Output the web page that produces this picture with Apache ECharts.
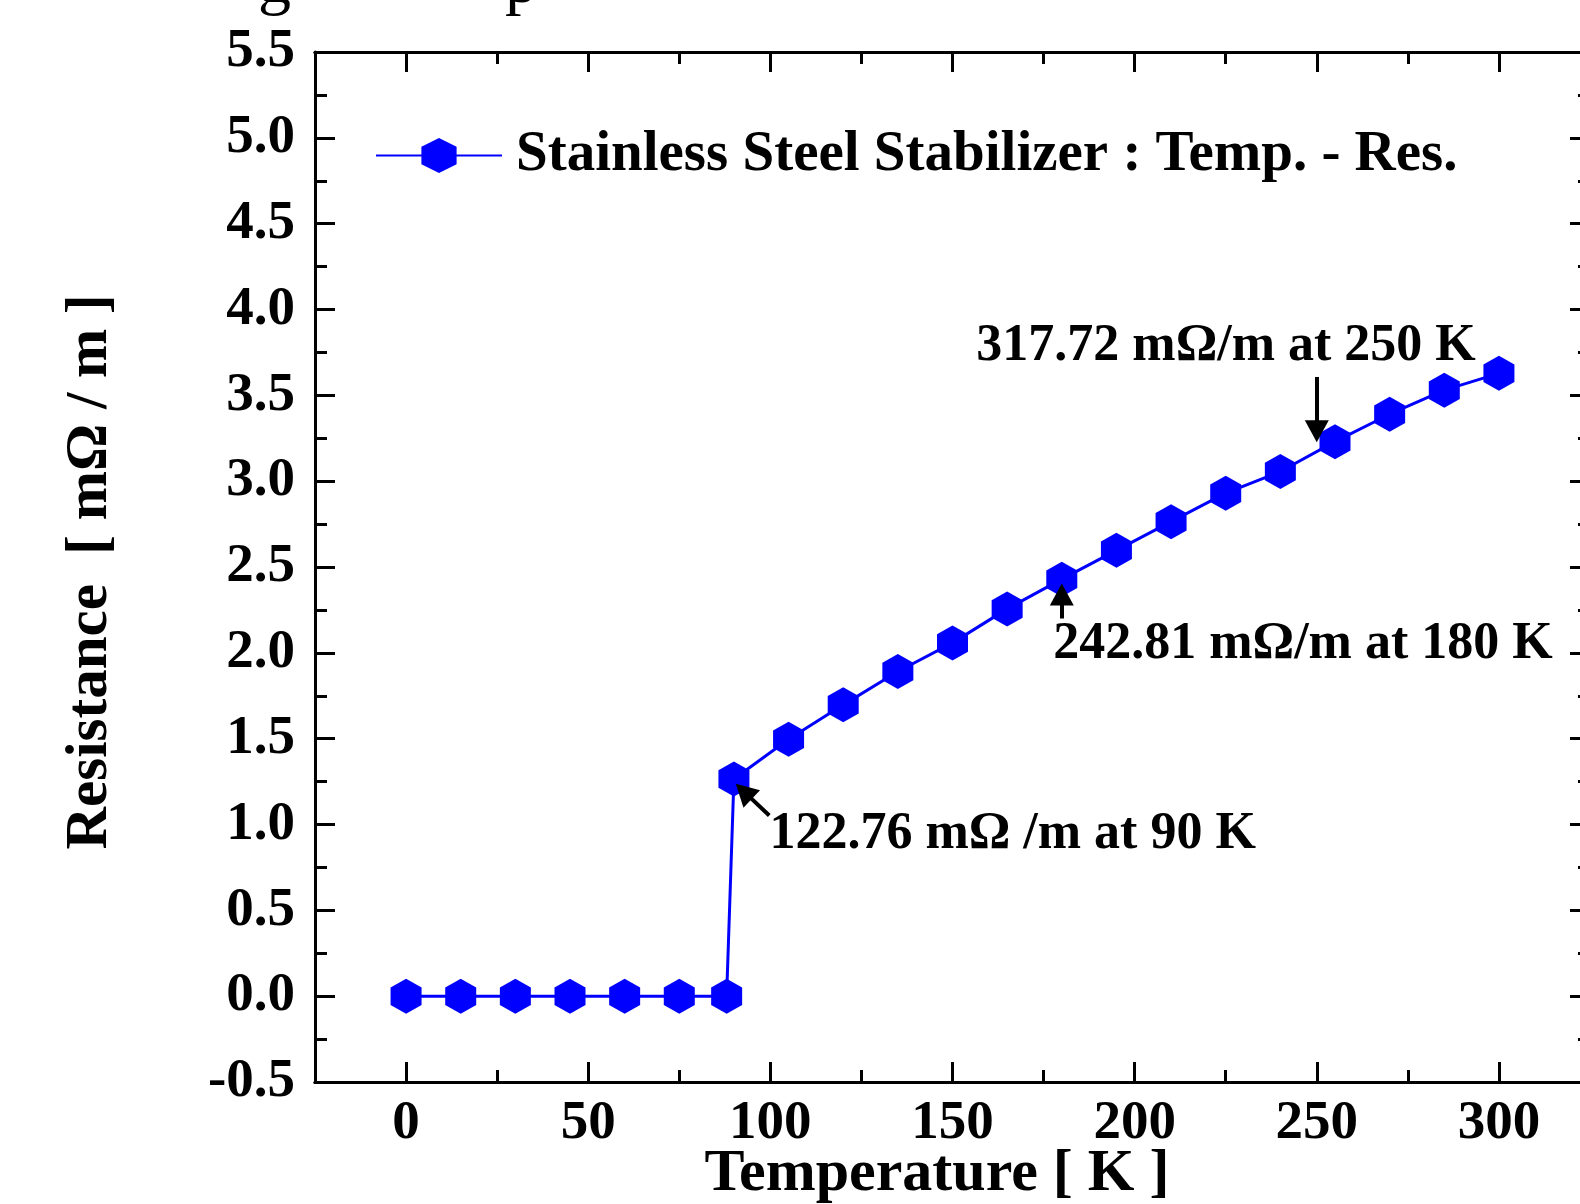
<!DOCTYPE html>
<html>
<head>
<meta charset="utf-8">
<title>Stainless Steel Stabilizer</title>
<script src="https://cdn.jsdelivr.net/npm/echarts@6/dist/echarts.min.js"></script>
<style>
  html, body { margin: 0; padding: 0; background: #fff; }
  #main { width: 1580px; height: 1204px; }
</style>
</head>
<body>
<div id="main"></div>
<script>
// data
var temps = [0, 15, 30, 45, 60, 75, 88, 90, 105, 120, 135, 150, 165, 180, 195, 210, 225, 240, 255, 270, 285, 300];
var resist = [0, 0, 0, 0, 0, 0, 0, 1.265, 1.497, 1.697, 1.891, 2.058, 2.256, 2.429, 2.597, 2.764, 2.930, 3.056, 3.230, 3.390, 3.530, 3.628];
var xMajor = [0, 50, 100, 150, 200, 250, 300];
var xMinor = [25, 75, 125, 175, 225, 275];
var seriesName = 'Stainless Steel Stabilizer : Temp. - Res.';
var notes = ['317.72 mΩ/m at 250 K', '242.81 mΩ/m at 180 K', '122.76 mΩ /m at 90 K'];

(function () {
  var dom = document.getElementById('main');
  var myChart = echarts.init(dom);
  var font = "'Liberation Serif', 'Times New Roman', serif";
  var hexagon = 'path://M0,-1 L0.87,-0.5 L0.87,0.5 L0,1 L-0.87,0.5 L-0.87,-0.5 Z';

  var points = temps.map(function (t, i) { return [t, resist[i]]; });

  function xAxisOf(pos, ticks, len, labels) {
    return {
      type: 'value', position: pos, min: -25, max: 325,
      axisLine: { show: true, onZero: false, lineStyle: { color: '#000', width: 3 } },
      axisTick: { show: true, inside: true, length: len, customValues: ticks, lineStyle: { color: '#000', width: 3 } },
      axisLabel: labels ? { show: true, customValues: ticks, margin: 14, color: '#000', fontFamily: font, fontWeight: 'bold', fontSize: 55 } : { show: false },
      splitLine: { show: false }
    };
  }
  function yAxisOf(pos, labels) {
    return {
      type: 'value', position: pos, min: -0.5, max: 5.5, interval: 0.5,
      axisLine: { show: true, onZero: false, lineStyle: { color: '#000', width: 3 } },
      axisTick: { show: true, inside: true, length: 20, lineStyle: { color: '#000', width: 3 } },
      minorTick: { show: true, splitNumber: 2, length: 12, lineStyle: { color: '#000', width: 3 } },
      axisLabel: labels ? {
        show: true, margin: 20, color: '#000', fontFamily: font, fontWeight: 'bold', fontSize: 55,
        formatter: function (v) { return v.toFixed(1); }
      } : { show: false },
      splitLine: { show: false }
    };
  }

  var option = {
    animation: false,
    backgroundColor: '#fff',
    grid: { left: 315, top: 52, width: 1275, height: 1030, containLabel: false, outerBoundsMode: 'none' },
    legend: {
      left: 370, top: 122,
      itemWidth: 126, itemHeight: 44,
      textStyle: { color: '#000', fontFamily: font, fontWeight: 'bold', fontSize: 57, padding: [0, 0, 0, 9] },
      data: [seriesName]
    },
    xAxis: [
      xAxisOf('bottom', xMajor, 20, true),
      xAxisOf('bottom', xMinor, 12, false),
      xAxisOf('top', xMajor, 20, false),
      xAxisOf('top', xMinor, 12, false)
    ],
    yAxis: [yAxisOf('left', true), yAxisOf('right', false)],
    graphic: [
      { type: 'text', left: 258, top: -48, style: { text: 'g', font: '66px ' + font, fill: '#000' } },
      { type: 'text', left: 505, top: -48, style: { text: 'p', font: '66px ' + font, fill: '#000' } },
      {
        type: 'text', x: 91, y: 572, rotation: Math.PI / 2,
        style: { text: 'Resistance  [ mΩ / m ]', font: 'bold 59px ' + font, fill: '#000', align: 'center', verticalAlign: 'middle' }
      },
      {
        type: 'text', x: 937, y: 1174,
        style: { text: 'Temperature [ K ]', font: 'bold 60px ' + font, fill: '#000', align: 'center', verticalAlign: 'middle' }
      }
    ],
    series: [
      {
        name: seriesName,
        type: 'line',
        xAxisIndex: 0, yAxisIndex: 0,
        data: points,
        symbol: hexagon,
        symbolSize: [31, 35],
        itemStyle: { color: '#0000ff' },
        lineStyle: { color: '#0000ff', width: 3 },
        markLine: {
          silent: true,
          symbol: ['none', 'triangle'],
          symbolSize: [24, 22],
          lineStyle: { color: '#000', width: 4, type: 'solid' },
          label: { show: false },
          data: [
            [{ coord: [250, 3.607] }, { coord: [250, 3.291] }],
            [{ coord: [180, 2.200] }, { coord: [180, 2.340] }],
            [{ coord: [99.7, 1.052] }, { coord: [92.7, 1.193] }]
          ]
        },
        markPoint: {
          silent: true,
          symbol: 'circle',
          symbolSize: 1,
          itemStyle: { color: 'rgba(0,0,0,0)' },
          label: {
            show: true, position: 'right', distance: 0, formatter: '{b}',
            color: '#000', fontFamily: font, fontWeight: 'bold', fontSize: 52
          },
          data: [
            { name: notes[0], coord: [156.4, 3.786] },
            { name: notes[1], coord: [177.5, 2.049] },
            { name: notes[2], coord: [99.6, 0.942] }
          ]
        }
      }
    ]
  };

  if (option && typeof option === 'object') {
    myChart.setOption(option, true);
  }
})();
</script>
</body>
</html>
